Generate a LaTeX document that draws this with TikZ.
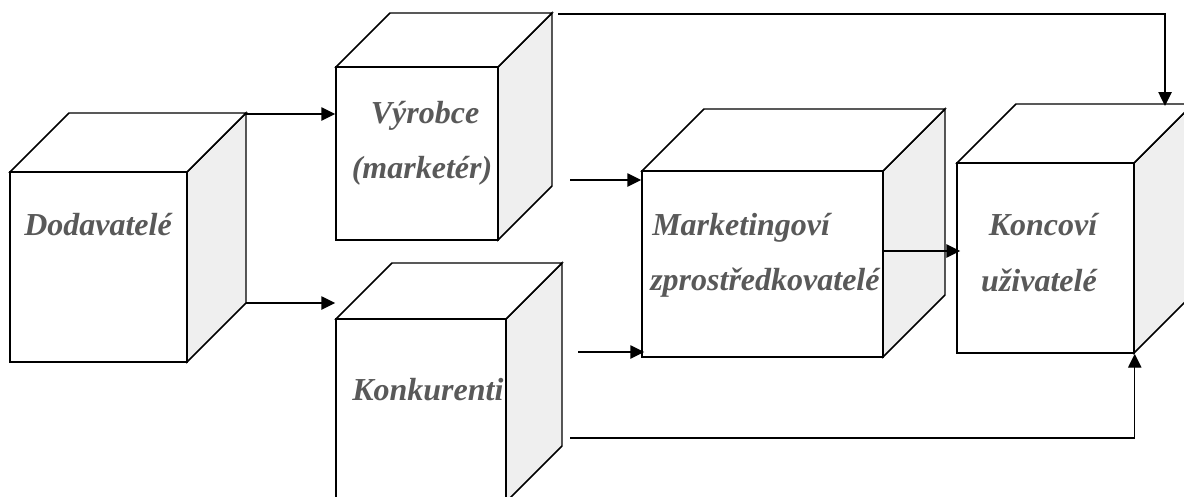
\documentclass[tikz,border=0pt]{standalone}
\usepackage{fontspec}
\setmainfont{Liberation Serif}
\usetikzlibrary{arrows.meta}
\definecolor{txtgray}{HTML}{595959}
\definecolor{sidegray}{HTML}{EFEFEF}
\tikzset{
  x=0.75pt, y=-0.75pt,
  face/.style={draw, line width=1.1pt, fill=white, inner sep=0pt},
  side/.style={draw, line width=1.1pt, fill=sidegray, line join=miter},
  top/.style={draw, line width=1.1pt, fill=white, line join=miter},
  lbl/.style={text=txtgray, font=\fontsize{24}{28}\selectfont\bfseries\itshape, inner sep=0pt},
  arr/.style={line width=1.1pt, -{Triangle[length=10.5pt,width=10pt]}},
}
% #1 name, #2 x1, #3 y1, #4 x2, #5 y2, #6 depth
\newcommand\drawcube[6]{%
  \path[side] (#4,#3) -- ++(#6,-#6) -- (#4+#6,#5-#6) -- (#4,#5) -- cycle;
  \path[top] (#2,#3) -- ++(#6,-#6) -- (#4+#6,#3-#6) -- (#4,#3) -- cycle;
  \node[face, minimum width={(#4-#2)*0.75pt}, minimum height={(#5-#3)*0.75pt}] (#1) at ({(#2+#4)/2},{(#3+#5)/2}) {};
}
\begin{document}
\begin{tikzpicture}
\useasboundingbox (0,0) rectangle (1184,496);
\clip (0,0) rectangle (1184,496);

\drawcube{dod}{10}{172}{187}{362}{59}
\drawcube{vyr}{336}{67}{498}{240}{54}
\drawcube{kon}{336}{319}{506}{502}{56}
\drawcube{mkt}{642}{171}{883}{357}{62}
\drawcube{kov}{957}{163}{1134}{353}{59}

% labels
\node[lbl, anchor=base west] (tdod) at (24,235) {Dodavatelé};
\node[lbl, anchor=base] (tvyr1) at (425,123) {Výrobce};
\node[lbl, anchor=base] (tvyr2) at (422,178) {(marketér)};
\node[lbl, anchor=base west] (tkon) at (352,400) {Konkurenti};
\node[lbl, anchor=base west] (tmkt1) at (652,235) {Marketingoví};
\node[lbl, anchor=base west] (tmkt2) at (650,290) {zprostředkovatelé};
\node[lbl, anchor=base] (tkov1) at (1043,235) {Koncoví};
\node[lbl, anchor=base] (tkov2) at (1039,291) {uživatelé};

% connector start points
\coordinate (dodbtr) at (246,114);
\coordinate (dodbbr) at (246,303);
\coordinate (a3) at (570,180);
\coordinate (a4) at (578,352);
\coordinate (a5) at (883,251);
\coordinate (a6) at (558,14);
\coordinate (kovtop) at (1165,106);
\coordinate (a7) at (570,438);

\draw[arr] (dodbtr) -- (dodbtr -| vyr.west);
\draw[arr] (dodbbr) -- (dodbbr -| kon.west);
\draw[arr] (a3) -- (a3 -| mkt.west);
\draw[arr] (a4) -- ([xshift=2.25pt]a4 -| mkt.west);
\draw[arr] (a5) -- ([xshift=3pt]a5 -| kov.west);
\draw[arr] (a6) -| (kovtop);
\draw[arr] (a7) -| (kov.south east);
\end{tikzpicture}
\end{document}
